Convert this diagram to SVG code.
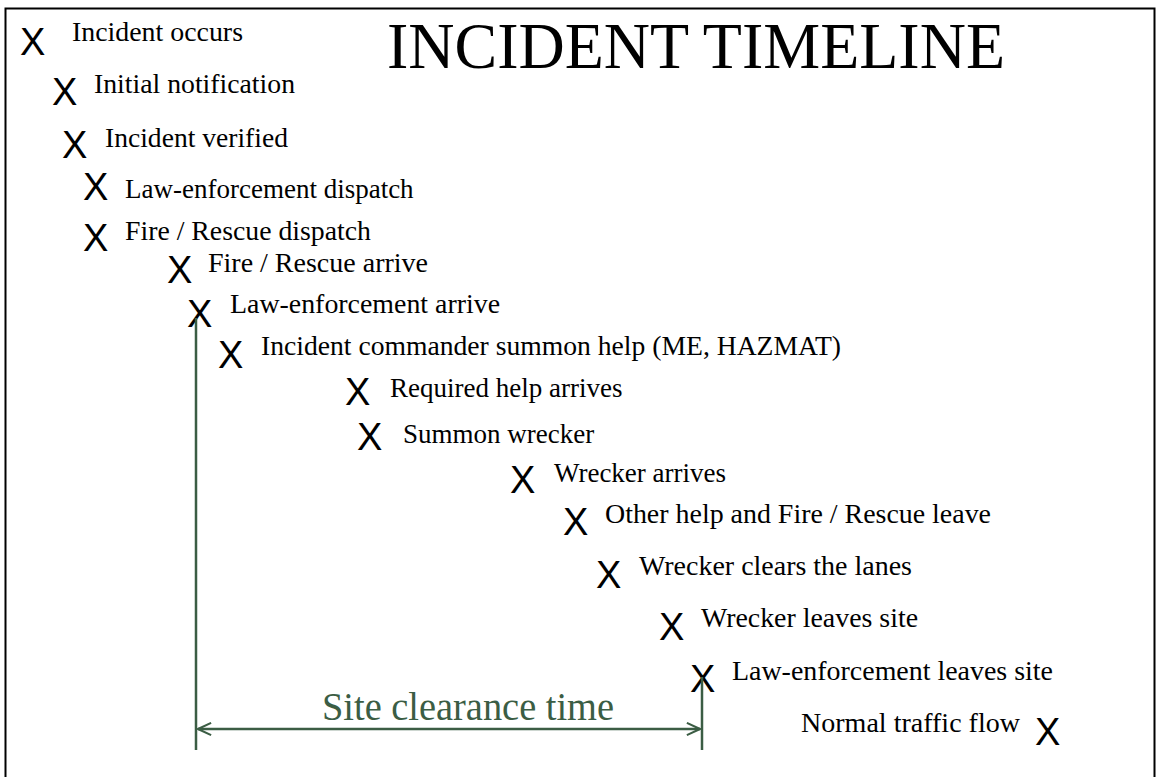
<svg xmlns="http://www.w3.org/2000/svg" width="1156" height="777" viewBox="0 0 1156 777">
  <style>
    .mark { font-family: "Liberation Sans", Arial, sans-serif; font-size: 38px; fill: #000; }
    .label { font-family: "Liberation Serif", "Times New Roman", serif; font-size: 27px; fill: #000; }
    .title { font-family: "Liberation Serif", "Times New Roman", serif; font-size: 66px; fill: #000; }
    .span-label { font-family: "Liberation Serif", "Times New Roman", serif; font-size: 40px; fill: #3b5d44; }
    .dim { stroke: #3b5d44; stroke-width: 2.5; fill: none; }
  </style>
  <defs>
    <marker id="chevron" viewBox="0 0 16 16" refX="15" refY="8" markerWidth="6" markerHeight="6" markerUnits="strokeWidth" orient="auto-start-reverse">
      <path d="M1,1.5 L15,8 L1,14.5" fill="none" stroke="#3b5d44" stroke-width="2.2"/>
    </marker>
  </defs>

  <rect x="0" y="0" width="1156" height="777" fill="#fff"/>
  <rect x="5.5" y="8.5" width="1149" height="800" fill="none" stroke="#000" stroke-width="2"/>

  <text id="title" class="title" x="387" y="68" textLength="618" lengthAdjust="spacingAndGlyphs">INCIDENT TIMELINE</text>

  <g id="ev-incident-occurs"><text class="mark" x="20" y="55">X</text><text class="label" x="72" y="41" textLength="171" lengthAdjust="spacingAndGlyphs">Incident occurs</text></g>
  <g id="ev-initial-notification"><text class="mark" x="52" y="105">X</text><text class="label" x="94" y="93" textLength="201" lengthAdjust="spacingAndGlyphs">Initial notification</text></g>
  <g id="ev-incident-verified"><text class="mark" x="62" y="158">X</text><text class="label" x="105" y="147" textLength="183" lengthAdjust="spacingAndGlyphs">Incident verified</text></g>
  <g id="ev-le-dispatch"><text class="mark" x="83" y="200">X</text><text class="label" x="125" y="198">Law-enforcement dispatch</text></g>
  <g id="ev-fr-dispatch"><text class="mark" x="83" y="251">X</text><text class="label" x="125" y="240" textLength="246" lengthAdjust="spacingAndGlyphs">Fire / Rescue dispatch</text></g>
  <g id="ev-fr-arrive"><text class="mark" x="167" y="283">X</text><text class="label" x="208" y="272" textLength="220" lengthAdjust="spacingAndGlyphs">Fire / Rescue arrive</text></g>
  <g id="ev-le-arrive"><text class="mark" x="187" y="327">X</text><text class="label" x="230" y="313" textLength="270" lengthAdjust="spacingAndGlyphs">Law-enforcement arrive</text></g>
  <g id="ev-summon-help"><text class="mark" x="218" y="368">X</text><text class="label" x="261" y="355" textLength="580" lengthAdjust="spacingAndGlyphs">Incident commander summon help (ME, HAZMAT)</text></g>
  <g id="ev-help-arrives"><text class="mark" x="345" y="405">X</text><text class="label" x="390" y="397">Required help arrives</text></g>
  <g id="ev-summon-wrecker"><text class="mark" x="357" y="450">X</text><text class="label" x="403" y="443">Summon wrecker</text></g>
  <g id="ev-wrecker-arrives"><text class="mark" x="510" y="493">X</text><text class="label" x="554" y="482">Wrecker arrives</text></g>
  <g id="ev-others-leave"><text class="mark" x="563" y="535">X</text><text class="label" x="605" y="523" textLength="386" lengthAdjust="spacingAndGlyphs">Other help and Fire / Rescue leave</text></g>
  <g id="ev-lanes-cleared"><text class="mark" x="596" y="588">X</text><text class="label" x="639" y="575" textLength="273" lengthAdjust="spacingAndGlyphs">Wrecker clears the lanes</text></g>
  <g id="ev-wrecker-leaves"><text class="mark" x="659" y="640">X</text><text class="label" x="701" y="627" textLength="217" lengthAdjust="spacingAndGlyphs">Wrecker leaves site</text></g>
  <g id="ev-le-leaves"><text class="mark" x="690" y="692">X</text><text class="label" x="732" y="680" textLength="321" lengthAdjust="spacingAndGlyphs">Law-enforcement leaves site</text></g>
  <g id="ev-normal-flow"><text class="label" x="801" y="732" textLength="219" lengthAdjust="spacingAndGlyphs">Normal traffic flow</text><text class="mark" x="1035" y="745">X</text></g>

  <g id="connectors">
    <line class="dim" x1="196" y1="318" x2="196" y2="750"/>
    <line class="dim" x1="702" y1="677" x2="702" y2="750"/>
    <line class="dim" x1="198" y1="729" x2="700" y2="729" marker-start="url(#chevron)" marker-end="url(#chevron)"/>
    <text class="span-label" x="322" y="720" textLength="292" lengthAdjust="spacingAndGlyphs">Site clearance time</text>
  </g>
</svg>
